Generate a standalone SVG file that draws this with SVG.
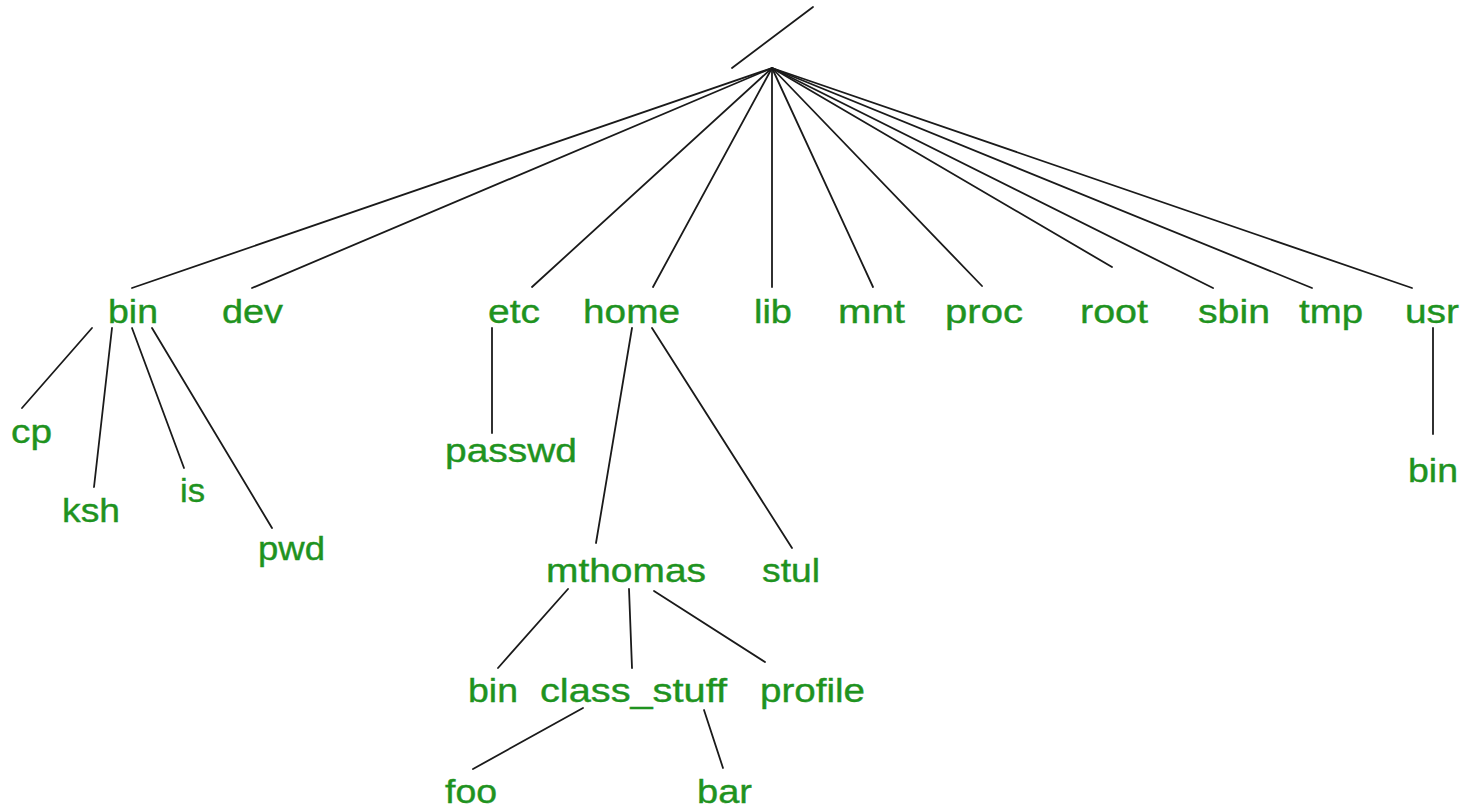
<svg xmlns="http://www.w3.org/2000/svg" width="1466" height="808" viewBox="0 0 1466 808">
<style>
.t{font-family:"Liberation Sans",Arial,sans-serif;font-size:34px;fill:#1f931f;stroke:#1f931f;stroke-width:0.4;}
.c line{stroke:#1a1a1a;stroke-width:1.8;stroke-linecap:round;}
</style>
<rect width="1466" height="808" fill="#fff"/>
<g id="connectors" class="c">
<line x1="732" y1="68" x2="813" y2="7"/>
<line x1="772" y1="68" x2="132" y2="288"/>
<line x1="772" y1="68" x2="252" y2="288"/>
<line x1="772" y1="68" x2="532" y2="287"/>
<line x1="772" y1="68" x2="653" y2="287"/>
<line x1="772" y1="68" x2="772" y2="287"/>
<line x1="772" y1="68" x2="873" y2="287"/>
<line x1="772" y1="68" x2="982" y2="286"/>
<line x1="772" y1="68" x2="1112" y2="267"/>
<line x1="772" y1="68" x2="1213" y2="288"/>
<line x1="772" y1="68" x2="1312" y2="288"/>
<line x1="772" y1="68" x2="1412" y2="288"/>
<line x1="92" y1="328" x2="22" y2="408"/>
<line x1="112" y1="328" x2="94" y2="487"/>
<line x1="132" y1="328" x2="184" y2="468"/>
<line x1="152" y1="328" x2="272" y2="528"/>
<line x1="492" y1="328" x2="492" y2="433"/>
<line x1="632" y1="328" x2="596" y2="543"/>
<line x1="652" y1="328" x2="792" y2="548"/>
<line x1="568" y1="589" x2="498" y2="668"/>
<line x1="629" y1="589" x2="632" y2="668"/>
<line x1="654" y1="591" x2="765" y2="662"/>
<line x1="583" y1="708" x2="473" y2="769"/>
<line x1="704" y1="710" x2="723" y2="768"/>
<line x1="1433" y1="328" x2="1433" y2="434"/>
</g>
<g id="n-bin"><text class="t" x="108" y="323" textLength="50" lengthAdjust="spacingAndGlyphs">bin</text></g>
<g id="n-dev"><text class="t" x="222" y="323" textLength="61" lengthAdjust="spacingAndGlyphs">dev</text></g>
<g id="n-etc"><text class="t" x="488" y="323" textLength="52" lengthAdjust="spacingAndGlyphs">etc</text></g>
<g id="n-home"><text class="t" x="583" y="323" textLength="97" lengthAdjust="spacingAndGlyphs">home</text></g>
<g id="n-lib"><text class="t" x="754" y="323" textLength="38" lengthAdjust="spacingAndGlyphs">lib</text></g>
<g id="n-mnt"><text class="t" x="838" y="323" textLength="67" lengthAdjust="spacingAndGlyphs">mnt</text></g>
<g id="n-proc"><text class="t" x="945" y="323" textLength="78" lengthAdjust="spacingAndGlyphs">proc</text></g>
<g id="n-root"><text class="t" x="1080" y="323" textLength="68" lengthAdjust="spacingAndGlyphs">root</text></g>
<g id="n-sbin"><text class="t" x="1198" y="323" textLength="72" lengthAdjust="spacingAndGlyphs">sbin</text></g>
<g id="n-tmp"><text class="t" x="1299" y="323" textLength="64" lengthAdjust="spacingAndGlyphs">tmp</text></g>
<g id="n-usr"><text class="t" x="1405" y="323" textLength="54" lengthAdjust="spacingAndGlyphs">usr</text></g>
<g id="n-cp"><text class="t" x="11" y="443" textLength="41" lengthAdjust="spacingAndGlyphs">cp</text></g>
<g id="n-ksh"><text class="t" x="62" y="522" textLength="58" lengthAdjust="spacingAndGlyphs">ksh</text></g>
<g id="n-is"><text class="t" x="180" y="502" textLength="25" lengthAdjust="spacingAndGlyphs">is</text></g>
<g id="n-pwd"><text class="t" x="258" y="560" textLength="67" lengthAdjust="spacingAndGlyphs">pwd</text></g>
<g id="n-passwd"><text class="t" x="445" y="462" textLength="132" lengthAdjust="spacingAndGlyphs">passwd</text></g>
<g id="n-mthomas"><text class="t" x="546" y="582" textLength="160" lengthAdjust="spacingAndGlyphs">mthomas</text></g>
<g id="n-stul"><text class="t" x="762" y="582" textLength="58" lengthAdjust="spacingAndGlyphs">stul</text></g>
<g id="n-usr-bin"><text class="t" x="1408" y="482" textLength="50" lengthAdjust="spacingAndGlyphs">bin</text></g>
<g id="n-mt-bin"><text class="t" x="468" y="702" textLength="50" lengthAdjust="spacingAndGlyphs">bin</text></g>
<g id="n-class_stuff"><text class="t" x="540" y="702" textLength="187" lengthAdjust="spacingAndGlyphs">class_stuff</text></g>
<g id="n-profile"><text class="t" x="760" y="702" textLength="105" lengthAdjust="spacingAndGlyphs">profile</text></g>
<g id="n-foo"><text class="t" x="445" y="803" textLength="52" lengthAdjust="spacingAndGlyphs">foo</text></g>
<g id="n-bar"><text class="t" x="697" y="803" textLength="55" lengthAdjust="spacingAndGlyphs">bar</text></g>
</svg>
